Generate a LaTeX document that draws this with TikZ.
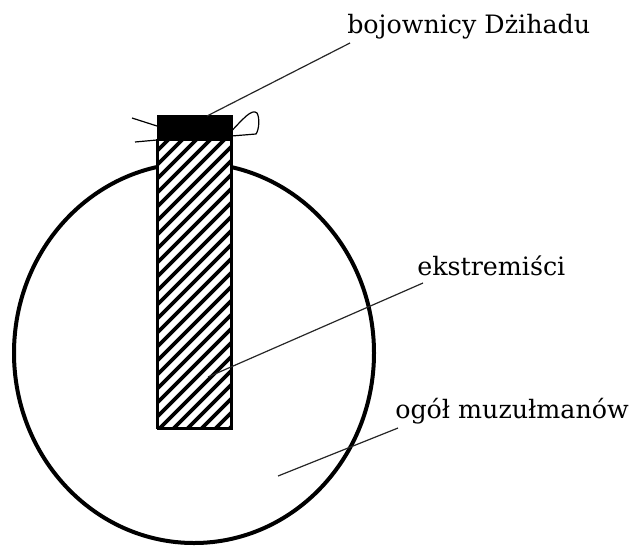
\documentclass[tikz,border=0pt]{standalone}
\usepackage{fontspec}
\setmainfont{DejaVu Serif}
\usetikzlibrary{positioning,calc}
\tikzset{
  lab/.style={font=\fontsize{19}{22}\selectfont,inner sep=0pt,anchor=base west},
  lead/.style={draw=black!85,line width=0.9pt},
  ring/.style={draw,line width=3pt},
  colbox/.style={draw,fill=white,line width=1.4pt,inner sep=0pt,anchor=north west,minimum width=55.5pt,minimum height=234.75pt},
  capbox/.style={fill=black,inner sep=0pt,anchor=north west,minimum width=55.5pt,minimum height=18.75pt},
  hatch/.style={line width=2.8pt},
  tie/.style={draw,line width=0.9pt},
}
\begin{document}
\begin{tikzpicture}[x=0.75pt,y=-0.75pt]
\useasboundingbox (0,0) rectangle (634,546);
% ogol muzulmanow
\draw[ring] (194,353) ellipse [x radius=180, y radius=190];
% ekstremisci, bojownicy
\node[colbox] (column) at (157,115) {};
\begin{scope}
  \clip (157,140) rectangle (231,428);
  \foreach \x in {-160,-146,...,240} \draw[hatch] (\x,440) -- ++(340,-340);
\end{scope}
\draw[line width=1.4pt] (157,140) rectangle (231,428);
\node[capbox] (cap) at (column.north west) {};
% strings round the cap
\draw[tie] (132,118) -- (cap.west |- 0,126);
\draw[tie] (135,142) -- (cap.west |- 0,140);
\draw[tie] (cap.east |- 0,131) .. controls (242,120) and (252,108) .. (257,113)
  .. controls (260,118) and (259,130) .. (256,134) -- (cap.east |- 0,136);
% labels
\node[lab] (dzihad) at (347,33) {bojownicy Dżihadu};
\node[lab] (ekstr) at (417,275) {ekstremiści};
\node[lab] (ogol) at (395,418) {ogół muzułmanów};
\coordinate (capHit) at (207,116);
\coordinate (ekstrHit) at (208,377);
\coordinate (ogolHit) at (278,476);
\draw[lead] ($(dzihad.base west)+(3,10)$) -- (capHit);
\draw[lead] ($(ekstr.base west)+(6,8)$) -- (ekstrHit);
\draw[lead] ($(ogol.base west)+(3,10)$) -- (ogolHit);
\end{tikzpicture}
\end{document}
